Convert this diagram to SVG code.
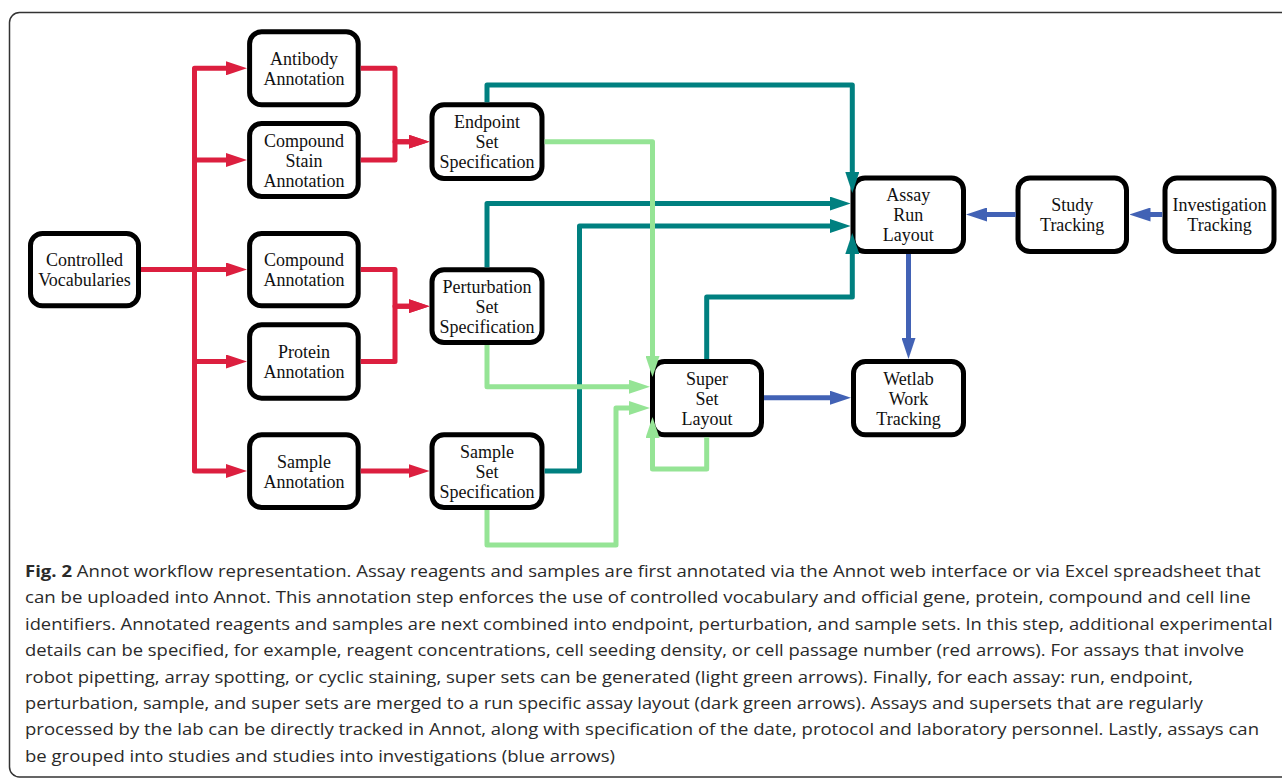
<svg xmlns="http://www.w3.org/2000/svg" width="1282" height="778" viewBox="0 0 1282 778">
<style>
.node rect{fill:#fff;stroke:#000;stroke-width:5}
.node text{font-family:"Liberation Serif","Times New Roman",serif;font-size:18px;fill:#111;text-anchor:middle}
.c{fill:none;stroke-width:5;stroke-linejoin:round}
.red{stroke:#dc1f3f;marker-end:url(#mr)}
.teal{stroke:#008080;marker-end:url(#mt)}
.lg{stroke:#95e495;marker-end:url(#mg)}
.blue{stroke:#4262b5;marker-end:url(#mb)}
.cap{font-family:"Open Sans","Noto Sans",sans-serif;font-size:16.5px;fill:#2a2a2a}
</style>
<defs>
<marker id="mr" markerUnits="userSpaceOnUse" markerWidth="21" markerHeight="14" refX="11" refY="7" orient="auto"><path d="M0,0 L21,7 L0,14 z" fill="#dc1f3f"/></marker>
<marker id="mt" markerUnits="userSpaceOnUse" markerWidth="21" markerHeight="14" refX="11" refY="7" orient="auto"><path d="M0,0 L21,7 L0,14 z" fill="#008080"/></marker>
<marker id="mg" markerUnits="userSpaceOnUse" markerWidth="21" markerHeight="14" refX="11" refY="7" orient="auto"><path d="M0,0 L21,7 L0,14 z" fill="#95e495"/></marker>
<marker id="mb" markerUnits="userSpaceOnUse" markerWidth="21" markerHeight="14" refX="11" refY="7" orient="auto"><path d="M0,0 L21,7 L0,14 z" fill="#4262b5"/></marker>
</defs>
<rect x="0" y="0" width="1282" height="778" fill="#fff"/>
<rect x="9.5" y="12.5" width="1290" height="764.5" rx="10" fill="none" stroke="#333" stroke-width="1.5"/>

<g id="n-cv" class="node"><rect x="30.5" y="233.5" width="108" height="72.3" rx="12"/><text x="84.5" y="266">Controlled</text><text x="84.5" y="286">Vocabularies</text></g>
<g id="n-antibody" class="node"><rect x="249.6" y="31.8" width="108.6" height="73" rx="12"/><text x="303.9" y="64.8">Antibody</text><text x="303.9" y="84.8">Annotation</text></g>
<g id="n-cstain" class="node"><rect x="249.6" y="123.5" width="108.6" height="73" rx="12"/><text x="303.9" y="146.5">Compound</text><text x="303.9" y="166.5">Stain</text><text x="303.9" y="186.5">Annotation</text></g>
<g id="n-compound" class="node"><rect x="249.6" y="233.5" width="108.6" height="72.3" rx="12"/><text x="303.9" y="266">Compound</text><text x="303.9" y="286">Annotation</text></g>
<g id="n-protein" class="node"><rect x="249.6" y="324.8" width="108.6" height="73.4" rx="12"/><text x="303.9" y="358">Protein</text><text x="303.9" y="378">Annotation</text></g>
<g id="n-sample" class="node"><rect x="249.6" y="434.8" width="108.6" height="72.7" rx="12"/><text x="303.9" y="467.6">Sample</text><text x="303.9" y="487.6">Annotation</text></g>
<g id="n-endpoint" class="node"><rect x="432" y="104.8" width="110" height="73.7" rx="12"/><text x="487" y="128">Endpoint</text><text x="487" y="148">Set</text><text x="487" y="168">Specification</text></g>
<g id="n-perturbation" class="node"><rect x="432" y="269.8" width="110" height="72.7" rx="12"/><text x="487" y="292.6">Perturbation</text><text x="487" y="312.6">Set</text><text x="487" y="332.6">Specification</text></g>
<g id="n-sampleset" class="node"><rect x="432" y="434.8" width="110" height="72.7" rx="12"/><text x="487" y="457.6">Sample</text><text x="487" y="477.6">Set</text><text x="487" y="497.6">Specification</text></g>
<g id="n-assay" class="node"><rect x="853" y="178" width="110.5" height="73.5" rx="12"/><text x="908.2" y="201.2">Assay</text><text x="908.2" y="221.2">Run</text><text x="908.2" y="241.2">Layout</text></g>
<g id="n-study" class="node"><rect x="1018" y="178" width="108.5" height="73.5" rx="12"/><text x="1072.2" y="211.2">Study</text><text x="1072.2" y="231.2">Tracking</text></g>
<g id="n-investigation" class="node"><rect x="1165" y="178" width="109" height="73.5" rx="12"/><text x="1219.5" y="211.2">Investigation</text><text x="1219.5" y="231.2">Tracking</text></g>
<g id="n-superset" class="node"><rect x="652.5" y="361.5" width="109" height="73.3" rx="12"/><text x="707" y="384.6">Super</text><text x="707" y="404.6">Set</text><text x="707" y="424.6">Layout</text></g>
<g id="n-wetlab" class="node"><rect x="853.5" y="361.5" width="110" height="73.3" rx="12"/><text x="908.5" y="384.6">Wetlab</text><text x="908.5" y="404.6">Work</text><text x="908.5" y="424.6">Tracking</text></g>

<g id="connectors">
<path class="c red" d="M141,269.5 H194.5 V68.3 H237"/>
<path class="c red" d="M141,269.5 H194.5 V160 H237"/>
<path class="c red" d="M141,269.5 H237"/>
<path class="c red" d="M141,269.5 H194.5 V361.5 H237"/>
<path class="c red" d="M141,269.5 H194.5 V471 H237"/>
<path class="c red" d="M360.7,68.3 H395 V141.7 H419.6"/>
<path class="c red" d="M360.7,160 H395 V141.7 H419.6"/>
<path class="c red" d="M360.7,269.5 H395 V306.2 H419.6"/>
<path class="c red" d="M360.7,361.5 H395 V306.2 H419.6"/>
<path class="c red" d="M360.7,471 H419.6"/>
<path class="c teal" d="M487,102.3 V85 H852.3 V183"/>
<path class="c teal" d="M487,267.3 V203.5 H840.7"/>
<path class="c teal" d="M544.6,471 H579.5 V226 H840.7"/>
<path class="c teal" d="M706.7,359 V297 H852.3 V243"/>
<path class="c lg" d="M544.6,141.7 H652.5 V367"/>
<path class="c lg" d="M487,345 V386.7 H640"/>
<path class="c lg" d="M487,510 V545 H616 V408 H640"/>
<path class="c lg" d="M706.7,437.3 V469 H652.5 V427"/>
<path class="c blue" d="M908.5,254 V349"/>
<path class="c blue" d="M764,397.7 H841"/>
<path class="c blue" d="M1015.7,214.5 H976"/>
<path class="c blue" d="M1162.3,214.5 H1139.5"/>
</g>

<g id="caption" class="cap">
<text x="25" y="577" textLength="1235.7" lengthAdjust="spacingAndGlyphs"><tspan font-weight="bold">Fig. 2</tspan> Annot workflow representation. Assay reagents and samples are first annotated via the Annot web interface or via Excel spreadsheet that</text>
<text x="25" y="603.4" textLength="1225.7" lengthAdjust="spacingAndGlyphs">can be uploaded into Annot. This annotation step enforces the use of controlled vocabulary and official gene, protein, compound and cell line</text>
<text x="25" y="629.8" textLength="1247.7" lengthAdjust="spacingAndGlyphs">identifiers. Annotated reagents and samples are next combined into endpoint, perturbation, and sample sets. In this step, additional experimental</text>
<text x="25" y="656.2" textLength="1219" lengthAdjust="spacingAndGlyphs">details can be specified, for example, reagent concentrations, cell seeding density, or cell passage number (red arrows). For assays that involve</text>
<text x="25" y="682.6" textLength="1168" lengthAdjust="spacingAndGlyphs">robot pipetting, array spotting, or cyclic staining, super sets can be generated (light green arrows). Finally, for each assay: run, endpoint,</text>
<text x="25" y="709" textLength="1178" lengthAdjust="spacingAndGlyphs">perturbation, sample, and super sets are merged to a run specific assay layout (dark green arrows). Assays and supersets that are regularly</text>
<text x="25" y="735.4" textLength="1234" lengthAdjust="spacingAndGlyphs">processed by the lab can be directly tracked in Annot, along with specification of the date, protocol and laboratory personnel. Lastly, assays can</text>
<text x="25" y="761.8" textLength="590" lengthAdjust="spacingAndGlyphs">be grouped into studies and studies into investigations (blue arrows)</text>
</g>
</svg>
